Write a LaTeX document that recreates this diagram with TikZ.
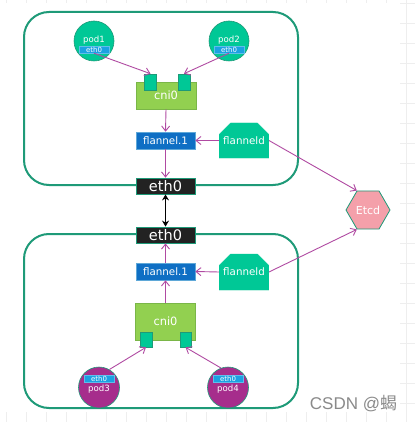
\documentclass[tikz,border=0pt]{standalone}
\usepackage{fontspec}
\setmainfont{DejaVu Sans}
\newfontfamily\wmfont{Liberation Sans}
\newfontfamily\cjkfont{Noto Sans CJK SC}
\usetikzlibrary{arrows.meta,shapes.geometric,shapes.misc}
\definecolor{hostc}{HTML}{1E9A78}
\definecolor{ethblk}{HTML}{222222}
\definecolor{flblue}{HTML}{0F6FC4}
\definecolor{flborder}{HTML}{5FA8D8}
\definecolor{cnigreen}{HTML}{92D050}
\definecolor{cniborder}{HTML}{7AB648}
\definecolor{portc}{HTML}{00C896}
\definecolor{fdc}{HTML}{00C896}
\definecolor{podg}{HTML}{00C896}
\definecolor{podp}{HTML}{A62D8C}
\definecolor{bandc}{HTML}{1BA1E2}
\definecolor{etcdc}{HTML}{F4A0AA}
\definecolor{linkc}{HTML}{B04AA2}
\definecolor{gridc}{HTML}{EEEEEE}
\definecolor{wmc}{HTML}{8A8A8A}
\begin{document}
\begin{tikzpicture}[x=1pt,y=-1pt,
  hostbox/.style={draw=hostc, line width=2pt, rounded corners=25pt, inner sep=0pt},
  ethbig/.style={fill=ethblk, draw=hostc, line width=0.8pt, text=white, font=\fontsize{14.5}{15}\selectfont, inner sep=0pt, minimum width=59pt, minimum height=16pt},
  flbox/.style={fill=flblue, draw=flborder, line width=0.6pt, text=white, font=\fontsize{10.3}{11}\selectfont, inner sep=0pt, minimum width=59pt, minimum height=17pt},
  cnibox/.style={fill=cnigreen, draw=cniborder, line width=0.6pt, text=white, font=\fontsize{11.4}{12}\selectfont, inner sep=0pt, minimum width=60pt},
  port/.style={fill=portc, draw=hostc, line width=0.6pt, inner sep=0pt, minimum width=12pt, minimum height=16pt},
  fdbox/.style={chamfered rectangle, chamfered rectangle corners={north west,north east}, chamfered rectangle xsep=7.5pt, chamfered rectangle ysep=7.5pt, fill=fdc, draw=fdc, text=white, font=\fontsize{10.3}{11}\selectfont, inner sep=0pt, minimum width=48pt, minimum height=35pt},
  pod/.style={circle, inner sep=0pt, minimum size=40pt, draw=hostc, line width=0.6pt},
  podlabel/.style={text=white, font=\fontsize{8.6}{9}\selectfont, inner sep=0pt},
  band/.style={fill=bandc, draw=bandc!70!white, line width=0.4pt, inner sep=0pt, minimum width=30pt, minimum height=7pt, text=white, font=\fontsize{7}{7}\selectfont},
  link/.style={draw=linkc, line width=0.9pt, -{Straight Barb[length=5pt,width=8pt]}},
  plainlink/.style={draw=linkc, line width=0.9pt}
]
\useasboundingbox (0,0) rectangle (415,422);
% faint canvas grid at the edges
\foreach \gx in {6.7,26.7,...,415} \draw[gridc, line width=0.5pt] (\gx,0) -- (\gx,422);
\foreach \gy in {3.3,23.3,...,422} \draw[gridc, line width=0.5pt] (0,\gy) -- (415,\gy);
\fill[white] (0,3) rectangle (400,412);

% host boxes
\node (hostA) [hostbox, minimum width=274pt, minimum height=173pt] at (161,98.5) {};
\node (hostB) [hostbox, minimum width=274pt, minimum height=174pt] at (161,321) {};

% top host
\node (cniA) [cnibox, minimum height=27pt] at (166,95.5) {cni0};
\node (portA1) [port] at (150.5,82) {};
\node (portA2) [port] at (184,82) {};
\node (flA) [flbox] at (165.5,140.5) {flannel.1};
\node (fdA) [fdbox] at (244,140.5) {flanneld};
\node (ethA) [ethbig] at (165.5,186) {eth0};

\node (pod1) [pod, fill=podg] at (94,41) {};
\node (pod1l) [podlabel] at (94,40) {pod1};
\node (pod1e) [band] at (94,49.5) {eth0};
\node (pod2) [pod, fill=podg] at (229,41) {};
\node (pod2l) [podlabel] at (229,40) {pod2};
\node (pod2e) [band] at (229,49.5) {eth0};

% bottom host
\node (ethB) [ethbig] at (165.5,235) {eth0};
\node (flB) [flbox] at (165.5,271.5) {flannel.1};
\node (fdB) [fdbox, minimum height=36pt] at (244,272) {flanneld};
\node (cniB) [cnibox, minimum height=37pt] at (165.5,321.5) {cni0};
\node (portB1) [port, minimum height=15pt] at (146,339.5) {};
\node (portB2) [port, minimum width=11pt, minimum height=15pt] at (185.5,339.5) {};

\node (pod3) [pod, fill=podp, minimum size=41pt] at (99,387.5) {};
\node (pod3e) [band] at (99,378.5) {eth0};
\node (pod3l) [podlabel] at (99,389) {pod3};
\node (pod4) [pod, fill=podp, minimum size=41pt] at (228,387.5) {};
\node (pod4e) [band] at (228,378.5) {eth0};
\node (pod4l) [podlabel] at (228,389) {pod4};

% etcd
\node (etcd) [regular polygon, regular polygon sides=6, minimum size=44pt, inner sep=0pt, fill=etcdc, draw=hostc, line width=0.8pt, text=white, font=\fontsize{11}{12}\selectfont] at (368,210) {Etcd};

% connectors
\draw[link] (pod1e.south) -- (portA1.north);
\draw[link] (pod2e.south) -- (portA2.north);
\draw[link] (cniA.south) -- (flA.north);
\draw[link] (fdA.west) -- (flA.east);
\draw[link] (flA.south) -- (ethA.north);
\draw[link] (fdA.east) -- (etcd.120);

\draw[black, line width=1.8pt, {Stealth[length=6pt,width=7pt]}-{Stealth[length=6pt,width=7pt]}] (ethA.south) -- (ethB.north);

\draw[link] (flB.north) -- (ethB.south);
\draw[link] (cniB.north) -- (flB.south);
\draw[link] (fdB.west) -- (flB.east);
\draw[link] (fdB.east) -- (etcd.240);
\draw[link] (pod3.60) -- (portB1.south);
\draw[link] (pod4.110) -- (portB2.south);

% watermark
\node (wm) [anchor=base, text=wmc, inner sep=0pt, font=\wmfont\fontsize{17}{17}\selectfont] at (353.5,409) {CSDN @{\cjkfont 蝎}};
\end{tikzpicture}
\end{document}
